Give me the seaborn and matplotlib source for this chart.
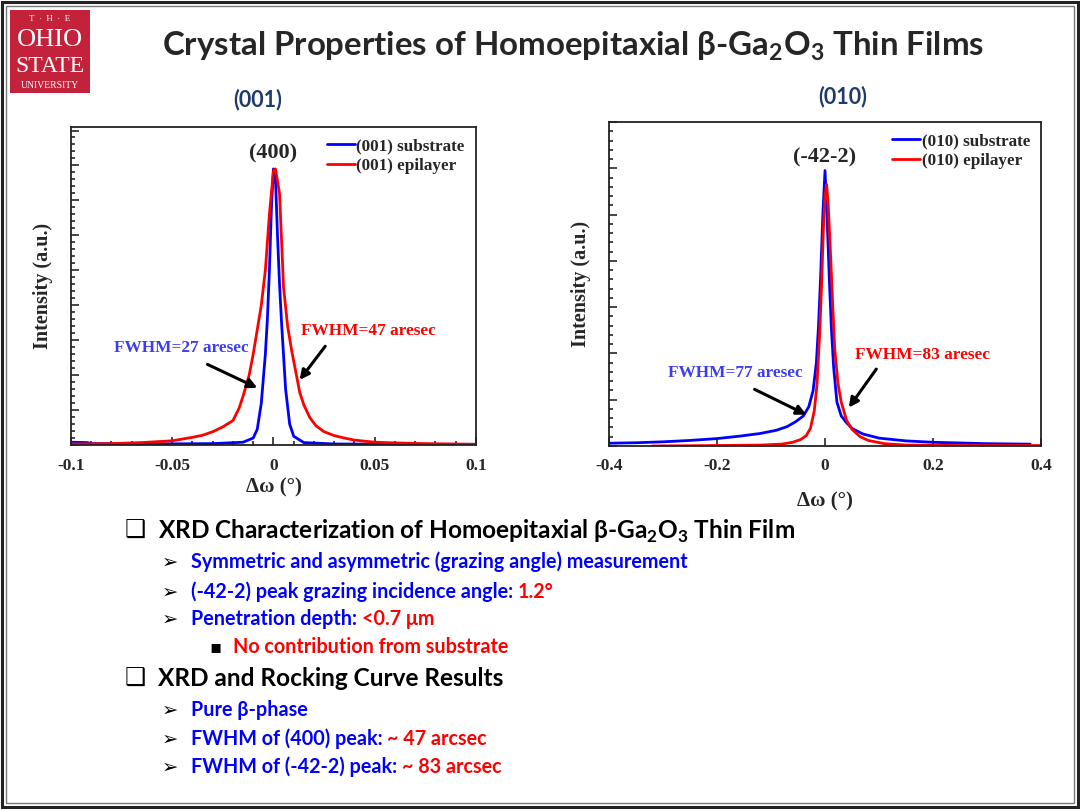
import matplotlib
matplotlib.use('Agg')
from matplotlib import pyplot as plt
from matplotlib.patches import Rectangle
from matplotlib.ticker import MultipleLocator, AutoMinorLocator
import pandas as pd
import seaborn as sns

# (001) rocking curves (intensity in tick units)
x_001_sub = [-0.100, -0.092, -0.090, -0.060, -0.030, -0.015, -0.010, -0.008, -0.006,
             -0.004, -0.003, -0.002, -0.001, 0.000, 0.001, 0.002, 0.003, 0.004,
             0.006, 0.008, 0.010, 0.015, 0.030, 0.060, 0.100]
y_001_sub = [0.08, 0.07, 0.04, 0.03, 0.04, 0.08, 0.20, 0.45, 1.2,
             2.6, 3.6, 5.0, 6.8, 7.9, 7.6, 6.0, 4.6, 3.5,
             1.6, 0.6, 0.25, 0.07, 0.03, 0.02, 0.02]
x_001_epi = [-0.100, -0.080, -0.065, -0.050, -0.040, -0.035, -0.030, -0.025, -0.020,
             -0.017, -0.015, -0.012, -0.010, -0.008, -0.006, -0.004, -0.002, 0.000,
             0.001, 0.003, 0.005, 0.007, 0.009, 0.011, 0.013, 0.015, 0.018, 0.021,
             0.025, 0.030, 0.035, 0.040, 0.050, 0.060, 0.075, 0.100]
y_001_epi = [0.03, 0.04, 0.07, 0.12, 0.22, 0.28, 0.38, 0.52, 0.70,
             1.05, 1.40, 2.0, 2.6, 3.3, 4.0, 5.0, 6.6, 7.85,
             7.9, 7.2, 4.5, 3.4, 2.7, 2.1, 1.5, 1.15, 0.78, 0.55,
             0.38, 0.27, 0.20, 0.14, 0.08, 0.06, 0.04, 0.02]

# (010) rocking curves
x_010_sub = [-0.400, -0.350, -0.300, -0.250, -0.200, -0.160, -0.120, -0.090, -0.070,
             -0.055, -0.040, -0.030, -0.022, -0.016, -0.012, -0.008, -0.004, 0.000,
             0.004, 0.008, 0.012, 0.016, 0.022, 0.030, 0.040, 0.050, 0.070, 0.100,
             0.150, 0.200, 0.300, 0.380]
y_010_sub = [0.06, 0.07, 0.09, 0.12, 0.16, 0.21, 0.27, 0.34, 0.42,
             0.52, 0.65, 0.85, 1.2, 1.8, 2.6, 3.7, 5.0, 5.95,
             4.9, 3.6, 2.5, 1.7, 0.95, 0.65, 0.50, 0.38, 0.26, 0.17,
             0.11, 0.08, 0.05, 0.04]
x_010_epi = [-0.320, -0.200, -0.120, -0.080, -0.060, -0.045, -0.035, -0.027, -0.020,
             -0.015, -0.010, -0.006, -0.003, 0.000, 0.003, 0.006, 0.010, 0.014,
             0.018, 0.024, 0.030, 0.040, 0.050, 0.065, 0.080, 0.110, 0.150, 0.250, 0.400]
y_010_epi = [0.00, 0.01, 0.02, 0.04, 0.08, 0.14, 0.22, 0.38, 0.75,
             1.3, 2.4, 3.6, 4.7, 5.4, 5.65, 5.2, 4.2, 3.1,
             2.1, 1.35, 0.95, 0.55, 0.36, 0.20, 0.12, 0.05, 0.02, 0.01, 0.01]

ticks_001 = [-0.1, -0.05, 0, 0.05, 0.1]
ticks_010 = [-0.4, -0.2, 0, 0.2, 0.4]

BLUE = '#0000FF'
RED = '#FF0000'
NOTE_BLUE = '#3C3CF5'
NAVY = '#1F3A6E'
SERIF = 'Liberation Serif'
SANS = ['Lato', 'DejaVu Sans']

sns.set_theme(style='ticks')
plt.rcParams['font.family'] = ['Liberation Serif', 'DejaVu Sans']
plt.rcParams['axes.unicode_minus'] = False
plt.rcParams['mathtext.fontset'] = 'custom'
plt.rcParams['mathtext.rm'] = 'Lato'
plt.rcParams['mathtext.bf'] = 'Lato:bold'

fig = plt.figure(figsize=(10.8, 8.1), dpi=100)
bg = fig.add_axes([0, 0, 1, 1])
bg.set_axis_off()
bg.set_xlim(0, 1080)
bg.set_ylim(810, 0)

# slide frame
bg.add_patch(Rectangle((2, 2), 1076, 805, fill=False, lw=2.2, ec='#222222'))
bg.add_patch(Rectangle((6, 6), 1068, 797, fill=False, lw=1.0, ec='#777777'))

# logo
bg.add_patch(Rectangle((10, 10), 80, 83, fc='#C4213B', ec='none'))
bg.text(50, 19, 'T  ·  H  ·  E', color='white', family=SERIF, fontsize=6.5,
        ha='center', va='center')
bg.text(50, 40, 'OHIO', color='white', family=SERIF, fontsize=19,
        ha='center', va='center')
bg.text(50, 66, 'STATE', color='white', family=SERIF, fontsize=17,
        ha='center', va='center')
bg.text(50, 85, 'UNIVERSITY', color='white', family=SERIF, fontsize=7,
        ha='center', va='center')

bg.text(573, 46, r'Crystal Properties of Homoepitaxial β-Ga$_\mathbf{2}$O$_\mathbf{3}$ Thin Films',
        family=SANS, fontsize=23.8, fontweight='bold', ha='center', va='center')
bg.text(258, 100, '(001)', family=SANS, fontsize=15.5, fontweight='bold',
        color=NAVY, ha='center', va='center')
bg.text(843, 97, '(010)', family=SANS, fontsize=15.5, fontweight='bold',
        color=NAVY, ha='center', va='center')


def rocking_panel(rect, xs, ys, labels, xlim, ylim, ticks, peak, peak_y, notes, xpad):
    ax = fig.add_axes(rect)
    for x, y, lab, col in zip(xs, ys, labels, [BLUE, RED]):
        df = pd.DataFrame({'x': x, 'y': y})
        sns.lineplot(data=df, x='x', y='y', ax=ax, color=col, lw=2.0,
                     label=lab, sort=False, estimator=None)
    ax.set_xlim(*xlim)
    ax.set_ylim(*ylim)
    ax.set_xticks(ticks)
    ax.set_xticklabels(['{:g}'.format(t) for t in ticks])
    ax.yaxis.set_major_locator(MultipleLocator(1))
    ax.yaxis.set_minor_locator(AutoMinorLocator(5))
    ax.set_yticklabels([])
    ax.tick_params(which='both', direction='in', top=False, right=False,
                   labelsize=12.5, width=1.2, pad=9)
    ax.tick_params(which='major', length=6)
    ax.tick_params(which='minor', length=3)
    for lab in ax.get_xticklabels():
        lab.set_fontweight('bold')
    for s in ax.spines.values():
        s.set_linewidth(1.3)
        s.set_color('#222222')
    ax.set_xlabel('Δω (°)', fontsize=15, fontweight='bold', labelpad=xpad)
    ax.set_ylabel('Intensity (a.u.)', fontsize=14.5, fontweight='bold', labelpad=4)
    ax.text(0, peak_y, peak, fontsize=16, fontweight='bold', ha='center', va='center')
    ax.legend(loc='upper right', frameon=False, handlelength=1.6,
              handletextpad=0.1, borderaxespad=0.25, labelspacing=0.25,
              prop={'weight': 'bold', 'size': 12.3, 'family': SERIF})
    for txt, xy, col in notes:
        ax.text(xy[0], xy[1], txt, color=col, fontsize=12.4,
                fontweight='bold', ha='center', va='center')
    return ax


arrow = dict(arrowstyle='-|>', lw=2.2, color='black', mutation_scale=14)

ax1 = rocking_panel([0.0657, 0.4506, 0.375, 0.3926],
                    [x_001_sub, x_001_epi], [y_001_sub, y_001_epi],
                    ['(001) substrate', '(001) epilayer'],
                    (-0.1, 0.1), (0, 9.1), ticks_001, '(400)', 8.34,
                    [('FWHM=27 aresec', (-0.0457, 2.77), NOTE_BLUE),
                     ('FWHM=47 aresec', (0.0467, 3.26), RED)], 3)
ax1.xaxis.set_minor_locator(MultipleLocator(0.01))
ax1.annotate('', xy=(-0.0067, 1.6), xytext=(-0.0338, 2.34), arrowprops=arrow)
ax1.annotate('', xy=(0.0121, 1.8), xytext=(0.0264, 2.89), arrowprops=arrow)

ax2 = rocking_panel([0.5639, 0.4494, 0.4, 0.4],
                    [x_010_sub, x_010_epi], [y_010_sub, y_010_epi],
                    ['(010) substrate', '(010) epilayer'],
                    (-0.4, 0.4), (0, 7), ticks_010, '(-42-2)', 6.24,
                    [('FWHM=77 aresec', (-0.167, 1.58), NOTE_BLUE),
                     ('FWHM=83 aresec', (0.18, 1.97), RED)], 12)
ax2.annotate('', xy=(-0.030, 0.65), xytext=(-0.135, 1.25), arrowprops=arrow)
ax2.annotate('', xy=(0.041, 0.78), xytext=(0.098, 1.71), arrowprops=arrow)


def line(x, y, parts, size, marker, marker_x, marker_size):
    bg.text(marker_x, y, marker, family=['DejaVu Sans'], fontsize=marker_size,
            ha='left', va='center', color='black')
    prev = None
    for txt, col in parts:
        if prev is None:
            prev = bg.text(x, y, txt, family=SANS, fontsize=size, fontweight='bold',
                           color=col, ha='left', va='center')
        else:
            prev = bg.annotate(txt, xy=(1, 0), xycoords=prev, family=SANS,
                               fontsize=size, fontweight='bold', color=col,
                               ha='left', va='bottom')


HEAD, SUB = 17.6, 14.2
line(158, 531, [(r'XRD Characterization of Homoepitaxial β-Ga$_\mathbf{2}$O$_\mathbf{3}$ Thin Film', 'black')],
     HEAD, '❑', 125, 17)
line(191, 562, [('Symmetric and asymmetric (grazing angle) measurement', BLUE)], SUB, '➢', 162, 14)
line(191, 592, [('(-42-2) peak grazing incidence angle: ', BLUE), ('1.2°', RED)], SUB, '➢', 162, 14)
line(191, 619, [('Penetration depth: ', BLUE), ('<0.7 μm', RED)], SUB, '➢', 162, 14)
line(233, 647, [('No contribution from substrate', RED)], SUB, '▪', 209, 13)
line(158, 679, [('XRD and Rocking Curve Results', 'black')], HEAD, '❑', 125, 17)
line(191, 710, [('Pure β-phase', BLUE)], SUB, '➢', 162, 14)
line(191, 739, [('FWHM of (400) peak: ', BLUE), ('~ 47 arcsec', RED)], SUB, '➢', 162, 14)
line(191, 767, [('FWHM of (-42-2) peak: ', BLUE), ('~ 83 arcsec', RED)], SUB, '➢', 162, 14)

fig.savefig('out.png', dpi=100)
